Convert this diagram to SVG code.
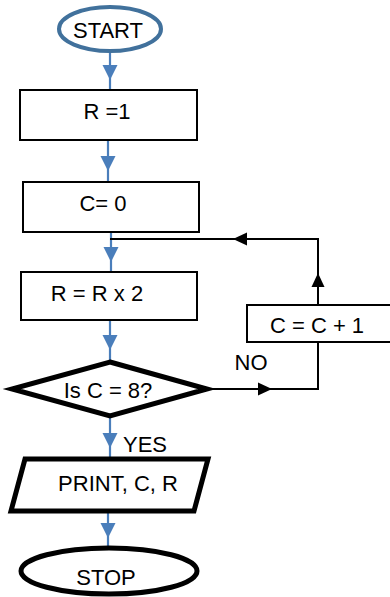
<svg xmlns="http://www.w3.org/2000/svg" width="390" height="597" viewBox="0 0 390 597">
  <style>
    .lbl { font-family: "Liberation Sans", Arial, sans-serif; font-size: 22px; fill: #000; }
    .c { text-anchor: middle; }
    .box { fill: #fff; stroke: #000; stroke-width: 2; }
    .thick { fill: #fff; stroke: #000; stroke-width: 5; stroke-linejoin: miter; }
    .flow { fill: none; stroke: #4A7EBB; stroke-width: 2.2; }
    .back { fill: none; stroke: #000; stroke-width: 2; }
  </style>
  <defs>
    <!-- arrowheads, tip at origin, pointing down -->
    <path id="headBlue" d="M-7.5,-15 L7.5,-15 L0,0 Z" fill="#4A7EBB"/>
    <path id="headBlack" d="M-6.5,-14 L6.5,-14 L0,0 Z" fill="#000"/>
  </defs>

  <!-- connectors -->
  <g id="connectors">
    <line class="flow" x1="110" y1="52" x2="110" y2="90"/>
    <use href="#headBlue" transform="translate(110,80)"/>

    <line class="flow" x1="108" y1="140" x2="108" y2="182"/>
    <use href="#headBlue" transform="translate(108,171)"/>

    <line class="flow" x1="111" y1="232" x2="111" y2="272"/>
    <use href="#headBlue" transform="translate(111,262)"/>

    <line class="flow" x1="110" y1="320" x2="110" y2="361"/>
    <use href="#headBlue" transform="translate(110,350)"/>

    <line class="flow" x1="110" y1="417" x2="110" y2="459"/>
    <use href="#headBlue" transform="translate(110,448)"/>

    <line class="flow" x1="108" y1="510" x2="108" y2="547"/>
    <use href="#headBlue" transform="translate(108,538)"/>

    <!-- NO branch to the counter box -->
    <polyline class="back" points="207,389 318,389 318,342"/>
    <use href="#headBlack" transform="translate(272,389) rotate(-90)"/>

    <!-- loop back above the doubling step -->
    <polyline class="back" points="318,305 318,239 110,239"/>
    <use href="#headBlack" transform="translate(318,273) rotate(180)"/>
    <use href="#headBlack" transform="translate(233,239) rotate(90)"/>

    <text class="lbl c" x="251" y="370">NO</text>
    <text class="lbl" x="123" y="452">YES</text>
  </g>

  <g id="start">
    <ellipse cx="110" cy="29" rx="51" ry="22" fill="#fff" stroke="#41719C" stroke-width="4"/>
    <text class="lbl c" x="108" y="38">START</text>
  </g>

  <g id="setR">
    <rect class="box" x="20" y="90" width="177" height="50"/>
    <text class="lbl c" x="107" y="119">R =1</text>
  </g>

  <g id="setC">
    <rect class="box" x="23" y="182" width="176" height="50"/>
    <text class="lbl c" x="103" y="211">C= 0</text>
  </g>

  <g id="double">
    <rect class="box" x="21" y="272" width="176" height="48"/>
    <text class="lbl c" x="97" y="301">R = R x 2</text>
  </g>

  <g id="increment">
    <rect class="box" x="247" y="305" width="145" height="37"/>
    <text class="lbl c" x="317" y="333">C = C + 1</text>
  </g>

  <g id="test">
    <polygon class="thick" points="110,362 207,389 110,416 12,389"/>
    <text class="lbl c" x="108" y="398">Is C = 8?</text>
  </g>

  <g id="print">
    <polygon class="thick" points="25,459 208,459 194,511 11,511"/>
    <text class="lbl c" x="118" y="491">PRINT, C, R</text>
  </g>

  <g id="stop">
    <ellipse cx="109" cy="571" rx="88" ry="23" fill="#fff" stroke="#000" stroke-width="5"/>
    <text class="lbl c" x="106" y="585">STOP</text>
  </g>
</svg>
